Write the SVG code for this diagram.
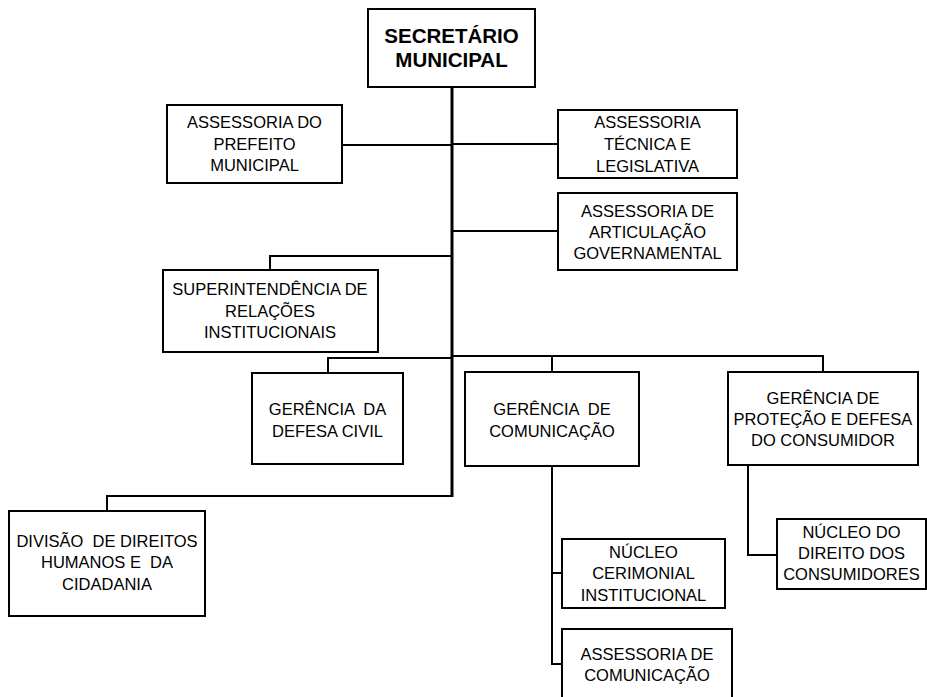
<svg xmlns="http://www.w3.org/2000/svg" width="927" height="697" viewBox="0 0 927 697">
<style>
rect{fill:#fff;stroke:#000;stroke-width:2}
text{font-family:"Liberation Sans",Arial,sans-serif;font-size:16.5px;fill:#000;text-anchor:middle}
.t{font-weight:bold;font-size:20.5px}
.c{fill:none;stroke:#000;stroke-width:2}
.m{fill:none;stroke:#000;stroke-width:3}
</style>
<rect x="0" y="0" width="927" height="697" style="stroke:none"/>
<g id="connectors">
<path class="m" d="M452 87V497"/>
<path class="c" d="M342 145H452M452 144H558M452 231H558M270 270V256H452M328 373V358H452M452 356H823V372M552 356V372M452 496H107V511M552 466V664H562M552 573H562M748 465V555H777"/>
</g>
<g id="secretario"><rect x="368" y="9" width="167" height="78"/><text class="t" x="451.5" y="43">SECRETÁRIO</text><text class="t" x="451.5" y="67">MUNICIPAL</text></g>
<g id="prefeito"><rect x="167" y="105" width="175" height="78"/><text x="254.5" y="128">ASSESSORIA DO</text><text x="254.5" y="150">PREFEITO</text><text x="254.5" y="171">MUNICIPAL</text></g>
<g id="tecnica"><rect x="558" y="110" width="179" height="68"/><text x="647.5" y="128">ASSESSORIA</text><text x="647.5" y="150">TÉCNICA E</text><text x="647.5" y="172">LEGISLATIVA</text></g>
<g id="articulacao"><rect x="558" y="193" width="179" height="77"/><text x="647.5" y="217">ASSESSORIA DE</text><text x="647.5" y="238">ARTICULAÇÃO</text><text x="647.5" y="259">GOVERNAMENTAL</text></g>
<g id="superintendencia"><rect x="163" y="270" width="215" height="82"/><text x="270" y="295">SUPERINTENDÊNCIA DE</text><text x="270" y="317">RELAÇÕES</text><text x="270" y="338">INSTITUCIONAIS</text></g>
<g id="defesa"><rect x="252" y="373" width="151" height="91"/><text x="327.5" y="415" xml:space="preserve">GERÊNCIA  DA</text><text x="327.5" y="437">DEFESA CIVIL</text></g>
<g id="comunicacao"><rect x="465" y="372" width="174" height="94"/><text x="552" y="415" xml:space="preserve">GERÊNCIA  DE</text><text x="552" y="437">COMUNICAÇÃO</text></g>
<g id="consumidor"><rect x="728" y="372" width="190" height="93"/><text x="823" y="404">GERÊNCIA DE</text><text x="823" y="425">PROTEÇÃO E DEFESA</text><text x="823" y="446">DO CONSUMIDOR</text></g>
<g id="divisao"><rect x="9" y="511" width="196" height="105"/><text x="107" y="547" xml:space="preserve">DIVISÃO  DE DIREITOS</text><text x="107" y="568" xml:space="preserve">HUMANOS E  DA</text><text x="107" y="590">CIDADANIA</text></g>
<g id="cerimonial"><rect x="562" y="539" width="163" height="69"/><text x="643.5" y="558">NÚCLEO</text><text x="643.5" y="579">CERIMONIAL</text><text x="643.5" y="601">INSTITUCIONAL</text></g>
<g id="asscomunicacao"><rect x="562" y="629" width="170" height="72"/><text x="647" y="660">ASSESSORIA DE</text><text x="647" y="681">COMUNICAÇÃO</text></g>
<g id="nucleo-direito"><rect x="777" y="519" width="149" height="70"/><text x="851.5" y="538">NÚCLEO DO</text><text x="851.5" y="559">DIREITO DOS</text><text x="851.5" y="580">CONSUMIDORES</text></g>
</svg>
